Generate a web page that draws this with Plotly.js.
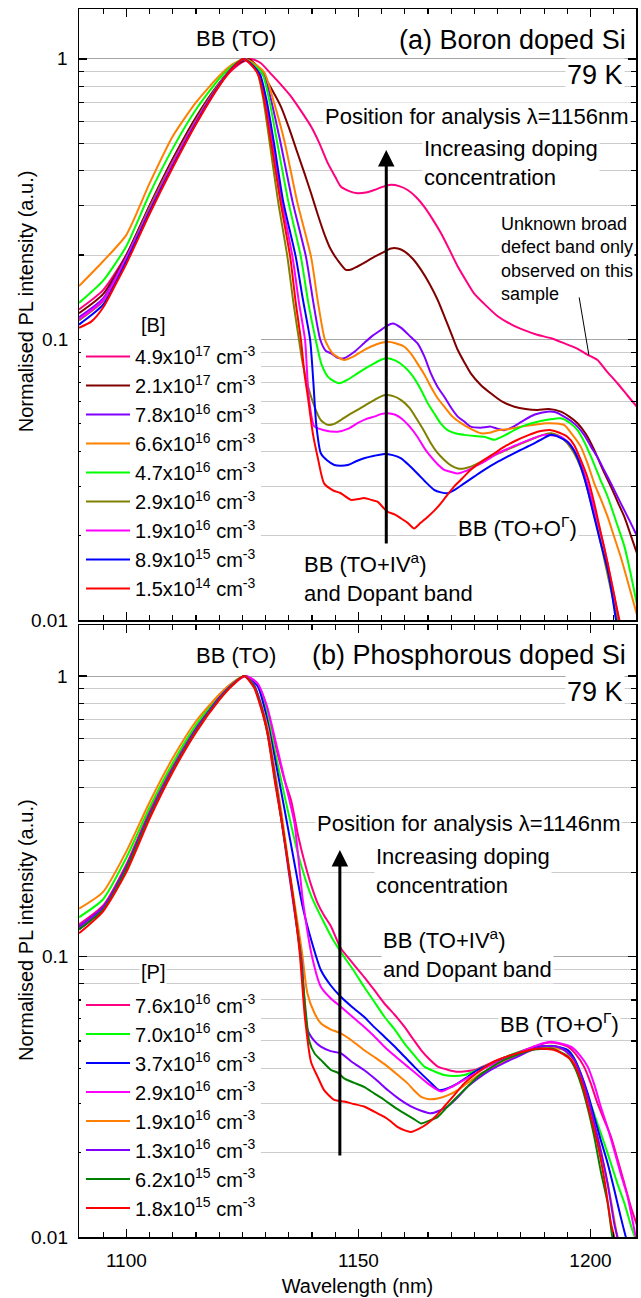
<!DOCTYPE html>
<html><head><meta charset="utf-8">
<script src="https://cdn.plot.ly/plotly-3.0.1.min.js"></script>
<style>html,body{margin:0;padding:0;background:#fff}#chart{width:641px;height:1298px}</style>
</head><body><div id="chart"></div>
<script>
// ---------- Panel (a): Boron doped Si, 79 K ----------
const wlB_49e17 = [1089.8,1095,1100,1105,1110,1115,1120,1123,1125,1127,1129,1131,1133.3,1135.5,1137.7,1139.8,1141.6,1143.4,1145,1146.2,1148,1149.8,1151.6,1153.4,1155.2,1157,1158.8,1160.6,1162.4,1164.2,1166,1167.8,1169.6,1171.4,1173.2,1174.9,1177.5,1180,1183,1185.7,1188.5,1191.5,1194.3,1197,1199.5,1201.5,1203.5,1205.8,1208,1210];
const plB_49e17 = [0.128,0.150,0.200,0.300,0.440,0.615,0.810,0.920,0.975,1.0,0.965,0.89,0.81,0.734,0.65,0.574,0.50,0.425,0.38,0.351,0.338,0.332,0.334,0.341,0.350,0.356,0.352,0.341,0.322,0.297,0.268,0.239,0.209,0.182,0.162,0.146,0.132,0.121,0.113,0.108,0.104,0.101,0.097,0.093,0.088,0.0845,0.077,0.0698,0.063,0.0576];

const wlB_21e17 = [1089.8,1095,1100,1105,1110,1115,1120,1123,1126.3,1128,1129.7,1131.5,1133.3,1135,1136.9,1138.4,1139.8,1141.2,1142.6,1144,1145.5,1147.3,1148.6,1149.8,1151.6,1153.4,1155.2,1157,1158.5,1159.9,1161.7,1163.5,1165.3,1167.1,1168.6,1170,1171.4,1172.8,1174.2,1176.3,1178.5,1181,1183.6,1186,1188.6,1191,1193.6,1195.5,1197.2,1199,1200.8,1202.6,1204.4,1206,1207.3,1208.7,1210];
const plB_21e17 = [0.124,0.145,0.2,0.3,0.44,0.62,0.82,0.935,1.0,0.95,0.865,0.77,0.676,0.57,0.461,0.39,0.332,0.28,0.239,0.21,0.192,0.177,0.178,0.182,0.189,0.197,0.204,0.211,0.211,0.206,0.194,0.177,0.158,0.138,0.12,0.105,0.0917,0.083,0.0757,0.069,0.0643,0.06,0.0576,0.0565,0.0561,0.0565,0.0553,0.053,0.0503,0.046,0.0404,0.0345,0.0299,0.026,0.0233,0.020,0.0173];

const wlB_78e16 = [1089.8,1095,1100,1105,1110,1115,1120,1123,1125.5,1127.7,1129.6,1131.3,1133.1,1135.8,1138.7,1140.3,1141.8,1143,1144.1,1145.5,1146.9,1149,1151.2,1153,1154.8,1156.2,1157.4,1159.2,1161.3,1162.7,1164.2,1165.6,1167,1168.5,1170,1171.4,1172.8,1174.2,1176.3,1178.5,1180,1181.4,1183.5,1185.7,1188,1190.7,1192.5,1194.3,1195.8,1197.2,1198.7,1200.1,1201.5,1202.9,1204.7,1206.5,1208.3,1210.1];
const plB_78e16 = [0.12,0.14,0.197,0.295,0.43,0.605,0.81,0.935,1.0,0.95,0.889,0.7,0.514,0.31,0.197,0.135,0.0996,0.091,0.0893,0.086,0.0857,0.09,0.097,0.103,0.108,0.112,0.114,0.11,0.102,0.097,0.087,0.0757,0.068,0.0625,0.057,0.0531,0.051,0.0489,0.0485,0.0489,0.048,0.0475,0.049,0.0516,0.054,0.0553,0.055,0.0531,0.0512,0.0489,0.0455,0.0415,0.038,0.0343,0.030,0.0261,0.0228,0.0198];

const wlB_66e16 = [1089.8,1095,1100,1105,1110,1115,1120,1123,1125.5,1128,1129.8,1131.8,1134,1136.8,1139.8,1141.3,1142.8,1144.5,1146.9,1149,1151.2,1153.8,1156.3,1158,1159.9,1161.3,1162.7,1164.2,1165.6,1167,1168.5,1170.3,1172.1,1174.2,1176.4,1178.2,1180,1182.5,1185,1188,1190.7,1192.5,1194.3,1196,1197.9,1199.4,1200.8,1202.2,1203.7,1205,1206.5,1208.3,1210.1];
const plB_66e16 = [0.155,0.19,0.236,0.36,0.53,0.70,0.87,0.96,1.0,0.95,0.889,0.7,0.514,0.31,0.197,0.135,0.0996,0.089,0.0845,0.087,0.0917,0.096,0.0982,0.097,0.0942,0.089,0.0822,0.075,0.0679,0.062,0.0576,0.053,0.0503,0.048,0.0463,0.0465,0.0475,0.048,0.0489,0.0497,0.0503,0.0502,0.0496,0.046,0.0415,0.036,0.0307,0.027,0.0233,0.02,0.0168,0.0132,0.0103];

const wlB_47e16 = [1089.8,1095,1100,1105,1110,1115,1120,1123,1125.3,1127.5,1129.3,1130.9,1132.4,1134.9,1137.6,1139.2,1140.8,1142,1143.4,1144.7,1145.9,1147.8,1149.8,1151.6,1153.4,1155,1156.3,1158,1159.9,1161.7,1163.5,1165,1166.3,1167.8,1169.2,1171,1172.8,1175,1177.1,1179.3,1181.5,1183.6,1186,1188.6,1191,1193.6,1195.5,1197.2,1198.7,1200.1,1202,1203.7,1205.5,1207.3,1208.7,1210.1];
const plB_47e16 = [0.135,0.162,0.215,0.33,0.48,0.66,0.85,0.95,1.0,0.95,0.889,0.7,0.514,0.31,0.197,0.135,0.0996,0.082,0.0737,0.071,0.0698,0.072,0.0757,0.079,0.0822,0.0848,0.0857,0.084,0.080,0.074,0.0661,0.059,0.0546,0.05,0.0475,0.0462,0.0457,0.0453,0.045,0.0439,0.0455,0.0475,0.0495,0.0509,0.0518,0.0524,0.0505,0.0475,0.043,0.0382,0.032,0.0275,0.0225,0.0183,0.0145,0.0112];

const wlB_29e16 = [1089.8,1095,1100,1105,1110,1115,1120,1123,1125.3,1127,1128.3,1129.5,1130.8,1132.7,1134.7,1136,1137.2,1138,1139.8,1141.9,1143.4,1144.8,1146.2,1148,1149.8,1151.6,1153.4,1155,1155.9,1157.5,1159.2,1161,1162.7,1164.2,1165.6,1167,1168.5,1170,1171.4,1172.8,1174.2,1176.3,1178.5,1181,1183.6,1186,1188.6,1190,1191.5,1193,1194.3,1195.8,1197.2,1198.7,1200.1,1201.2,1202.2,1203.3,1204.4,1205.8,1207];
const plB_29e16 = [0.117,0.137,0.195,0.295,0.43,0.605,0.815,0.94,1.0,0.95,0.889,0.72,0.514,0.31,0.197,0.135,0.0996,0.082,0.0625,0.0516,0.0496,0.05,0.0516,0.054,0.0561,0.0585,0.0608,0.0628,0.0634,0.0628,0.0608,0.057,0.0516,0.047,0.0427,0.0395,0.0372,0.0355,0.0347,0.0347,0.0352,0.0365,0.0382,0.0398,0.0415,0.0432,0.045,0.0458,0.0463,0.0455,0.0439,0.041,0.0372,0.032,0.0261,0.0222,0.0188,0.0155,0.0128,0.01,0.0082];

const wlB_19e16 = [1089.8,1095,1100,1105,1110,1115,1120,1123,1125.3,1127,1128.6,1130,1131.4,1133.5,1135.8,1137.2,1138.5,1139.2,1140,1140.5,1142.6,1145.5,1147.7,1149.8,1151.6,1153.4,1155,1156.3,1157.8,1159.2,1161,1162.7,1164.2,1165.6,1167,1168.5,1170,1171.4,1173.2,1175,1177.5,1180,1182.5,1185,1187.5,1190,1192,1193.6,1195.5,1197.2,1198.7,1200.1,1201.5,1202.9,1204,1205.1,1206.2,1207.5];
const plB_19e16 = [0.118,0.138,0.195,0.29,0.425,0.6,0.81,0.935,1.0,0.95,0.88,0.7,0.514,0.31,0.197,0.135,0.0996,0.065,0.052,0.049,0.0475,0.0469,0.048,0.0503,0.052,0.0531,0.0543,0.0546,0.054,0.0524,0.049,0.045,0.041,0.0382,0.036,0.0343,0.0337,0.0333,0.034,0.0352,0.037,0.0393,0.041,0.0427,0.0443,0.0457,0.0455,0.045,0.0425,0.0382,0.033,0.0275,0.0225,0.0183,0.015,0.0122,0.01,0.0082];

const wlB_89e15 = [1089.8,1095,1100,1105,1110,1115,1120,1123,1125.3,1127.2,1128.8,1130.3,1131.7,1133.8,1136.5,1138,1139.6,1140.3,1140.9,1141.9,1143.3,1144.8,1146.2,1147.7,1149.5,1151.2,1153.4,1155.6,1157.4,1159.2,1161,1162.7,1164.5,1166.3,1167.8,1169.2,1171,1172.8,1175,1177.1,1179.6,1182.1,1184.7,1187.2,1189.4,1191.5,1193.3,1195,1196.5,1197.9,1199.4,1200.8,1202.2,1203.7,1204.6,1205.5,1206.8];
const plB_89e15 = [0.113,0.133,0.19,0.285,0.415,0.59,0.805,0.935,1.0,0.95,0.88,0.7,0.514,0.31,0.197,0.14,0.0996,0.07,0.05,0.0393,0.037,0.0357,0.0355,0.0357,0.0368,0.0377,0.0385,0.0391,0.0387,0.0377,0.0355,0.0333,0.031,0.0291,0.0285,0.0283,0.0293,0.0307,0.0325,0.0343,0.0363,0.0382,0.0402,0.0421,0.044,0.0457,0.0448,0.0432,0.04,0.0352,0.029,0.0233,0.0188,0.0151,0.0125,0.01,0.0082];

const wlB_15e14 = [1089.8,1092.5,1095,1097.5,1100,1105,1110,1115,1120,1123,1125.2,1127,1128.5,1129.8,1131.1,1133.2,1135.3,1136.5,1137.6,1138.4,1139.1,1140.2,1141.2,1142.6,1144.5,1146.2,1148.4,1150,1151.2,1152.8,1154.1,1155.5,1156.3,1157.8,1159.2,1160.6,1162,1163.4,1164.9,1166.4,1167.8,1169.2,1170.6,1172.4,1174.2,1176.8,1179.3,1181.8,1184.3,1186.5,1188.6,1190,1191.5,1193.3,1195,1196.5,1197.9,1199.4,1200.8,1202.2,1203.7,1205,1206.2,1207.5];
const plB_15e14 = [0.110,0.116,0.130,0.155,0.186,0.28,0.41,0.585,0.80,0.93,1.0,0.95,0.87,0.7,0.514,0.31,0.197,0.135,0.1,0.075,0.0625,0.046,0.0382,0.0307,0.029,0.0283,0.0268,0.027,0.0272,0.0268,0.0264,0.025,0.0243,0.0238,0.023,0.0222,0.0212,0.0222,0.0233,0.0246,0.0261,0.028,0.0299,0.032,0.0343,0.037,0.0393,0.0418,0.0439,0.0455,0.0469,0.0474,0.0475,0.0465,0.045,0.042,0.0372,0.032,0.0261,0.0205,0.0159,0.0125,0.01,0.0085];

const labelsB = ['4.9x10<sup>17</sup> cm<sup>-3</sup>','2.1x10<sup>17</sup> cm<sup>-3</sup>','7.8x10<sup>16</sup> cm<sup>-3</sup>','6.6x10<sup>16</sup> cm<sup>-3</sup>','4.7x10<sup>16</sup> cm<sup>-3</sup>','2.9x10<sup>16</sup> cm<sup>-3</sup>','1.9x10<sup>16</sup> cm<sup>-3</sup>','8.9x10<sup>15</sup> cm<sup>-3</sup>','1.5x10<sup>14</sup> cm<sup>-3</sup>'];
const colorsB = ['#ff0080','#800000','#8000ff','#ff8000','#00ff00','#808000','#ff00ff','#0000ff','#ff0000'];

// ---------- Panel (b): Phosphorous doped Si, 79 K ----------
const wlP_76e16 = [1089.8,1095,1100,1105,1110,1115,1120,1123,1125.6,1128,1130,1132,1134,1135.5,1137,1138.3,1139.8,1141.2,1142.6,1144.1,1146.2,1148.7,1151.2,1153.4,1155.6,1157.8,1159.9,1161.7,1163.5,1165.3,1167.1,1169.2,1171.4,1173.2,1175,1177.5,1180,1182.8,1185.7,1188.2,1190.7,1193,1195.1,1196.9,1198.6,1200,1201.5,1203,1204.4,1205.8,1207.3,1208.7,1210.1];
const plP_76e16 = [0.13,0.152,0.213,0.33,0.48,0.66,0.85,0.945,1.0,0.95,0.8,0.58,0.43,0.36,0.27,0.22,0.18,0.155,0.14,0.128,0.107,0.095,0.0847,0.076,0.068,0.062,0.0562,0.051,0.0464,0.043,0.0405,0.0395,0.0388,0.039,0.0394,0.041,0.0428,0.0445,0.0464,0.048,0.0493,0.049,0.0477,0.0447,0.0405,0.0355,0.030,0.026,0.0228,0.019,0.0155,0.0128,0.0109];

const wlP_70e16 = [1089.8,1095,1100,1105,1110,1115,1120,1123,1125.5,1128,1130,1132,1134,1136.9,1139.8,1142.6,1144.5,1146.9,1149,1151.2,1153.4,1155.6,1157.8,1159.9,1162,1164.2,1166.3,1168.5,1170.6,1172.8,1175,1177.1,1180,1182.8,1185.7,1188.6,1190.4,1192.2,1194,1195.8,1197.2,1198.6,1200,1201.5,1203,1204.4,1205.8,1207.3,1208.7,1210];
const plP_70e16 = [0.138,0.16,0.225,0.34,0.49,0.67,0.855,0.95,1.0,0.94,0.77,0.54,0.38,0.235,0.165,0.132,0.115,0.0998,0.089,0.078,0.069,0.061,0.055,0.049,0.0445,0.0405,0.039,0.0378,0.0375,0.0378,0.039,0.0405,0.0425,0.0446,0.0462,0.0477,0.048,0.048,0.047,0.0452,0.041,0.0353,0.030,0.0254,0.0215,0.0183,0.0155,0.0132,0.011,0.0095];

const wlP_37e16 = [1089.8,1095,1100,1105,1110,1115,1120,1123,1125.5,1128.3,1130,1132,1134,1136,1138,1140,1141.9,1144,1146.2,1148.7,1151.2,1153.4,1155.6,1157.8,1159.9,1162,1164.2,1165.8,1167.4,1169.4,1171.4,1173.5,1175.7,1178.5,1181.4,1184.3,1187.2,1189.4,1191.5,1193.3,1195.1,1196.5,1197.9,1199.4,1200.8,1202.2,1203.7,1205.1,1206.5,1207.6,1209];
const plP_37e16 = [0.125,0.148,0.208,0.32,0.465,0.645,0.835,0.94,1.0,0.92,0.74,0.51,0.34,0.225,0.15,0.112,0.0895,0.079,0.0719,0.066,0.061,0.056,0.0518,0.0478,0.044,0.0405,0.0373,0.0352,0.0334,0.034,0.0353,0.0372,0.0394,0.0413,0.0434,0.0452,0.0471,0.0478,0.048,0.0475,0.0464,0.0432,0.0383,0.0325,0.0268,0.0222,0.0183,0.0148,0.0118,0.01,0.0082];

const wlP_29e16 = [1089.8,1095,1100,1105,1110,1115,1120,1123,1125.8,1128.3,1130.3,1132.6,1134.5,1136.2,1138,1140,1141.9,1144,1146.2,1148.7,1151.2,1153.4,1155.6,1158,1160.6,1162.8,1164.9,1167.8,1170,1172.1,1174.6,1177.1,1180,1182.8,1185.3,1187.8,1189.6,1191.5,1193.6,1195.8,1197.6,1199.4,1200.8,1202.2,1203.7,1205.1,1206.5,1208,1209.8,1211];
const plP_29e16 = [0.127,0.148,0.205,0.315,0.46,0.64,0.83,0.935,1.0,0.94,0.78,0.545,0.40,0.30,0.16,0.10,0.078,0.071,0.0662,0.061,0.0562,0.052,0.0477,0.044,0.0405,0.0378,0.0353,0.033,0.0342,0.0358,0.0378,0.0399,0.042,0.044,0.046,0.0477,0.049,0.0497,0.049,0.0477,0.0447,0.0405,0.035,0.0292,0.0245,0.0204,0.0168,0.0139,0.01,0.0088];

const wlP_19e16 = [1089.8,1095,1100,1105,1110,1115,1120,1123,1125.4,1127.5,1129,1130.5,1132,1133.5,1135,1136.5,1137.8,1139,1140.5,1141.9,1144,1146.2,1148.7,1151.2,1153.7,1156.3,1158.5,1160.6,1162,1163.5,1165.3,1167.1,1169.2,1171.4,1173.9,1176.4,1179.3,1182.1,1184.7,1187.2,1189,1190.7,1192.5,1194.3,1195.8,1197.2,1198.6,1200.1,1201.5,1202.9,1204.4,1205.8,1207];
const plP_19e16 = [0.148,0.17,0.237,0.355,0.51,0.69,0.86,0.95,1.0,0.93,0.8,0.65,0.46,0.32,0.21,0.145,0.105,0.074,0.063,0.0578,0.055,0.0532,0.05,0.0464,0.0435,0.0405,0.0378,0.0353,0.0333,0.0316,0.031,0.0312,0.032,0.0334,0.0358,0.0383,0.0405,0.0428,0.0447,0.0464,0.0472,0.0477,0.047,0.0464,0.0435,0.0394,0.034,0.0276,0.0225,0.0178,0.0135,0.01,0.0085];

const wlP_13e16 = [1089.8,1095,1100,1105,1110,1115,1120,1123,1125.4,1127.5,1129,1130.5,1132,1133.5,1135,1136.5,1137.8,1139,1140.5,1141.9,1144,1146.2,1148.7,1151.2,1153.7,1156.3,1158.8,1161.3,1163.5,1165.6,1167.4,1169.2,1171.4,1173.5,1176,1178.5,1181.4,1184.3,1186.8,1189.3,1191,1192.9,1194.7,1196.5,1198,1199.4,1200.8,1202.2,1203.7,1205.1,1205.8,1207];
const plP_13e16 = [0.128,0.15,0.208,0.32,0.465,0.645,0.835,0.94,1.0,0.93,0.79,0.62,0.44,0.3,0.2,0.135,0.095,0.055,0.05,0.0477,0.046,0.0452,0.042,0.0394,0.0365,0.0334,0.031,0.0292,0.0282,0.0276,0.0282,0.0292,0.0315,0.0343,0.037,0.0394,0.0418,0.044,0.046,0.0477,0.048,0.0477,0.046,0.0428,0.0375,0.0316,0.0255,0.0204,0.0155,0.0112,0.01,0.0085];

const wlP_62e15 = [1089.8,1095,1100,1105,1110,1115,1120,1123,1125.4,1127.5,1129,1130.4,1132,1133.3,1135.5,1137.4,1138.6,1139.4,1140.6,1141.9,1144.1,1145.6,1146.9,1149,1151.2,1153.4,1155.6,1157.8,1159.9,1161.7,1163.5,1165.3,1167.1,1168.9,1170.6,1173.2,1175.7,1178.5,1181.4,1184.3,1187.2,1189.4,1191.5,1193.3,1195.1,1196.5,1197.9,1199.4,1200.8,1202.2,1203.7,1204.7,1206];
const plP_62e15 = [0.125,0.147,0.205,0.315,0.46,0.635,0.825,0.935,1.0,0.92,0.78,0.625,0.43,0.315,0.182,0.105,0.065,0.05,0.045,0.0428,0.0394,0.0385,0.0368,0.0355,0.0343,0.0325,0.0308,0.029,0.0276,0.0265,0.0254,0.026,0.0268,0.0288,0.0308,0.034,0.0373,0.0402,0.0428,0.0447,0.0464,0.0468,0.047,0.0458,0.044,0.0405,0.0353,0.0288,0.0228,0.0172,0.0132,0.01,0.0078];

const wlP_18e15 = [1089.8,1095,1100,1105,1110,1115,1120,1123,1125.4,1127.5,1129,1130.4,1132,1133.3,1135.5,1137.3,1138.5,1139.8,1141.2,1142.6,1144.8,1146.9,1149,1151.2,1153.4,1155.6,1157,1158.4,1160,1161.3,1163,1164.9,1166.7,1168.5,1170.6,1172.8,1175.6,1178.5,1181.4,1184.3,1186.5,1188.6,1190.4,1192.2,1194,1195.8,1197.2,1198.6,1200,1201.5,1203,1204.4,1205.1,1206.5];
const plP_18e15 = [0.121,0.145,0.2,0.31,0.455,0.63,0.82,0.93,1.0,0.91,0.77,0.625,0.42,0.315,0.182,0.105,0.06,0.042,0.0373,0.0334,0.0308,0.0304,0.0298,0.0292,0.028,0.0268,0.0258,0.0247,0.024,0.0237,0.0243,0.0254,0.027,0.0292,0.032,0.0353,0.0385,0.0416,0.0437,0.0452,0.0462,0.047,0.0468,0.0464,0.045,0.0428,0.039,0.0334,0.027,0.0216,0.016,0.0112,0.01,0.0078];

const labelsP = ['7.6x10<sup>16</sup> cm<sup>-3</sup>','7.0x10<sup>16</sup> cm<sup>-3</sup>','3.7x10<sup>16</sup> cm<sup>-3</sup>','2.9x10<sup>16</sup> cm<sup>-3</sup>','1.9x10<sup>16</sup> cm<sup>-3</sup>','1.3x10<sup>16</sup> cm<sup>-3</sup>','6.2x10<sup>15</sup> cm<sup>-3</sup>','1.8x10<sup>15</sup> cm<sup>-3</sup>'];
const colorsP = ['#ff0080','#00ff00','#0000ff','#ff00ff','#ff8000','#8000ff','#008000','#ff0000'];

// axis ticks
const yMajorTicks = [0.01, 0.1, 1];
const yMajorText = ['0.01', '0.1', '1'];
const yMinorTicks = [0.02,0.03,0.04,0.05,0.06,0.07,0.08,0.09,0.2,0.3,0.4,0.5,0.6,0.7,0.8,0.9];

// analysis positions (nm)
const lambdaB = 1156;
const lambdaP = 1146;

const FONT = 'Liberation Sans, Arial, Helvetica, sans-serif';

const xB = [wlB_49e17, wlB_21e17, wlB_78e16, wlB_66e16, wlB_47e16, wlB_29e16, wlB_19e16, wlB_89e15, wlB_15e14];
const yB = [plB_49e17, plB_21e17, plB_78e16, plB_66e16, plB_47e16, plB_29e16, plB_19e16, plB_89e15, plB_15e14];
const xP = [wlP_76e16, wlP_70e16, wlP_37e16, wlP_29e16, wlP_19e16, wlP_13e16, wlP_62e15, wlP_18e15];
const yP = [plP_76e16, plP_70e16, plP_37e16, plP_29e16, plP_19e16, plP_13e16, plP_62e15, plP_18e15];

const traces = [];
xB.forEach((xs, i) => traces.push({
  type: 'scatter', mode: 'lines', x: xs, y: yB[i], name: labelsB[i],
  xaxis: 'x', yaxis: 'y', legend: 'legend',
  line: {color: colorsB[i], width: 2, shape: 'spline', smoothing: 0.6}
}));
xP.forEach((xs, i) => traces.push({
  type: 'scatter', mode: 'lines', x: xs, y: yP[i], name: labelsP[i],
  xaxis: 'x2', yaxis: 'y2', legend: 'legend2',
  line: {color: colorsP[i], width: 2, shape: 'spline', smoothing: 0.6}
}));

function xAx(extra) {
  return Object.assign({
    range: [1089.8, 1209.8], tick0: 1100, dtick: 50,
    ticks: 'inside', ticklen: 8, tickwidth: 1.3, tickcolor: '#000',
    minor: {tick0: 1100, dtick: 5, ticks: 'inside', ticklen: 5, tickwidth: 1.1, tickcolor: '#000', showgrid: false},
    showline: true, linecolor: '#000', linewidth: 1.5, mirror: 'allticks',
    showgrid: false, zeroline: false,
    tickfont: {family: FONT, size: 19, color: '#000'}
  }, extra);
}
function yAx(extra) {
  return Object.assign({
    type: 'log', tickmode: 'array', tickvals: yMajorTicks, ticktext: yMajorText,
    showticklabels: false,
    ticks: 'inside', ticklen: 8, tickwidth: 1.3, tickcolor: '#000',
    minor: {tickmode: 'array', tickvals: yMinorTicks, ticks: 'inside', ticklen: 5, tickwidth: 1.1, tickcolor: '#000',
            showgrid: true, gridcolor: '#cccccc', gridwidth: 1},
    showgrid: true, gridcolor: '#a6a6a6', gridwidth: 1,
    showline: true, linecolor: '#000', linewidth: 1.5, mirror: 'allticks',
    zeroline: false
  }, extra);
}

const L = Math.log10;
function txt(xr, yr, x, y, text, size, xanchor, extra) {
  return Object.assign({xref: xr, yref: yr, x: x, y: L(y), text: text, showarrow: false,
    xanchor: xanchor || 'center', yanchor: 'middle', align: 'left',
    font: {family: FONT, size: size, color: '#000'}}, extra || {});
}
const W = {bgcolor: '#ffffff', borderpad: 1};
const yTitle = 'Normalised PL intensity (a.u.)';

// y tick labels, right-aligned 9.5 px left of each panel's axis line
const yTickLabels = [];
['y', 'y2'].forEach(yr => yMajorTicks.forEach((v, i) => yTickLabels.push({
  xref: 'paper', yref: yr, x: 0, y: L(v), xshift: -9.5, text: yMajorText[i], showarrow: false,
  xanchor: 'right', yanchor: 'middle', font: {family: FONT, size: 19, color: '#000'}
})));

const annotations = yTickLabels.concat([
  // y-axis titles
  {xref: 'paper', yref: 'paper', x: -0.0952, y: 0.762, text: yTitle, textangle: -90, showarrow: false,
   xanchor: 'center', yanchor: 'middle', font: {family: FONT, size: 20, color: '#000'}},
  {xref: 'paper', yref: 'paper', x: -0.0952, y: 0.250, text: yTitle, textangle: -90, showarrow: false,
   xanchor: 'center', yanchor: 'middle', font: {family: FONT, size: 20, color: '#000'}},
  // panel (a)
  txt('x','y',1123.6,1.178,'BB (TO)',22,'center'),
  txt('x','y',1208.0,1.169,'(a) Boron doped Si',27,'right'),
  txt('x','y',1207.4,0.877,'79 K',27,'right',W),
  txt('x','y',1208.5,0.621,'Position for analysis \u03bb=' + lambdaB + 'nm',22,'right',W),
  txt('x','y',1163.8,0.424,'Increasing doping<br>concentration',22,'left',W),
  txt('x','y',1180.3,0.194,'Unknown broad<br>defect band only<br>observed on this<br>sample',18,'left',W),
  txt('x','y',1137.8,0.01413,'BB (TO+IV<sup>a</sup>)<br>and Dopant band',22,'left',W),
  txt('x','y',1171.0,0.02148,'BB (TO+O<sup>\u0393</sup>)',22,'left',W),
  txt('x','y',1105.7,0.1127,'[B]',20,'center',W),
  {xref:'x', yref:'y', axref:'x', ayref:'y', x: lambdaB, y: L(0.474), ax: lambdaB, ay: L(0.0185), text:'',
   showarrow:true, arrowhead:2, arrowsize:1.1, arrowwidth:3, arrowcolor:'#000', standoff:0, startstandoff:0},
  {xref:'x', yref:'y', axref:'x', ayref:'y', x: 1199.65, y: L(0.088), ax: 1197.5, ay: L(0.143), text:'',
   showarrow:true, arrowhead:0, arrowwidth:1, arrowcolor:'#000', standoff:0, startstandoff:0},
  // panel (b)
  txt('x2','y2',1123.6,1.188,'BB (TO)',22,'center'),
  txt('x2','y2',1208.0,1.188,'(b) Phosphorous doped Si',27,'right'),
  txt('x2','y2',1207.4,0.877,'79 K',27,'right',W),
  txt('x2','y2',1206.7,0.299,'Position for analysis \u03bb=' + lambdaP + 'nm',22,'right',W),
  txt('x2','y2',1153.25,0.2018,'Increasing doping<br>concentration',22,'left',W),
  txt('x2','y2',1154.8,0.1021,'BB (TO+IV<sup>a</sup>)<br>and Dopant band',22,'left',W),
  txt('x2','y2',1180.0,0.0579,'BB (TO+O<sup>\u0393</sup>)',22,'left',W),
  txt('x2','y2',1105.7,0.0881,'[P]',20,'center',W),
  {xref:'x2', yref:'y2', axref:'x2', ayref:'y2', x: lambdaP, y: L(0.240), ax: lambdaP, ay: L(0.0193), text:'',
   showarrow:true, arrowhead:2, arrowsize:1.1, arrowwidth:3, arrowcolor:'#000', standoff:0, startstandoff:0}
]);

const legendBase = {xanchor: 'left', yanchor: 'top', bgcolor: '#ffffff', borderwidth: 0,
  itemwidth: 44, tracegroupgap: 0, font: {family: FONT, size: 20, color: '#000'}};

const layout = {
  width: 641, height: 1298,
  margin: {l: 79, r: 5, t: 9, b: 61},
  paper_bgcolor: '#ffffff', plot_bgcolor: '#ffffff',
  font: {family: FONT, color: '#000'},
  showlegend: true,
  xaxis: xAx({anchor: 'y', showticklabels: false, matches: 'x2'}),
  xaxis2: xAx({anchor: 'y2', title: {text: 'Wavelength (nm)', font: {family: FONT, size: 20, color: '#000'}, standoff: 8}, ticklabelstandoff: 6}),
  yaxis: yAx({domain: [0.50244, 1], range: [-2, 0.178], anchor: 'x'}),
  yaxis2: yAx({domain: [0, 0.49837], range: [-2, 0.182], anchor: 'x2'}),
  legend: Object.assign({x: 0.0036, y: 0.7329}, legendBase),
  legend2: Object.assign({x: 0.0036, y: 0.2048}, legendBase),
  annotations: annotations
};

Plotly.newPlot('chart', traces, layout, {displayModeBar: false, staticPlot: true});
</script></body></html>
